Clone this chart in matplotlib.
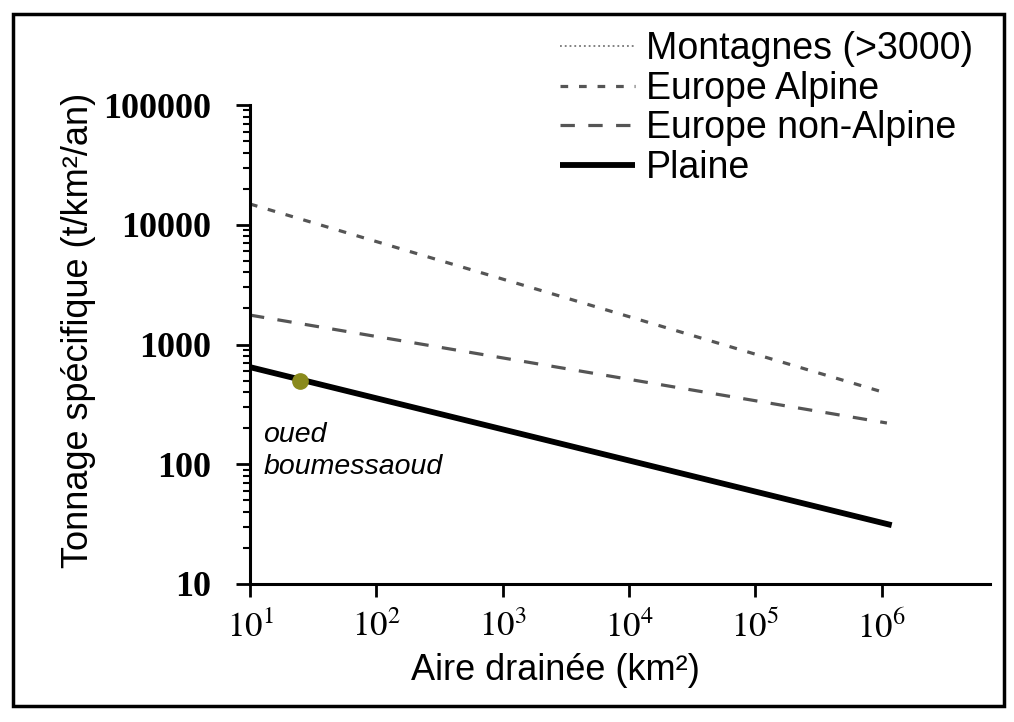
import matplotlib
matplotlib.use("Agg")
import matplotlib.pyplot as plt
from matplotlib.patches import Rectangle
from matplotlib.ticker import FixedLocator, FixedFormatter, LogLocator, NullFormatter, NullLocator

plt.rcParams['font.family'] = ['Liberation Sans', 'DejaVu Sans']
plt.rcParams['mathtext.fontset'] = 'stix'

# values
aire_alpine = [10, 1.15e6]
tonnage_alpine = [14900, 386]
aire_non_alpine = [10, 1.1e6]
tonnage_non_alpine = [1760, 221]
aire_plaine = [10, 1.2e6]
tonnage_plaine = [647, 31]
aire_oued = [25]
tonnage_oued = [496]

x_ticks = [1e1, 1e2, 1e3, 1e4, 1e5, 1e6]
x_labels = ['$10^{1}$', '$10^{2}$', '$10^{3}$', '$10^{4}$', '$10^{5}$', '$10^{6}$']
y_ticks = [10, 100, 1000, 10000, 100000]
y_labels = ['10', '100', '1000', '10000', '100000']

fig = plt.figure(figsize=(10.14, 7.22), dpi=100)
ax = fig.add_axes([250 / 1014, 1 - 584 / 722, (990 - 250) / 1014, (584 - 105) / 722])

ax.plot([], [], linestyle=':', color='#777777', lw=1.3, label='Montagnes (>3000)')
ax.plot(aire_alpine, tonnage_alpine, color='#555555', lw=2.3, dashes=(2.4, 3.4), label='Europe Alpine')
ax.plot(aire_non_alpine, tonnage_non_alpine, color='#555555', lw=2.3, dashes=(4.5, 4.2), label='Europe non-Alpine')
ax.plot(aire_plaine, tonnage_plaine, color='black', lw=4.2, solid_capstyle='butt', label='Plaine')
ax.plot(aire_oued, tonnage_oued, 'o', color='#8a8a1c', markersize=11, zorder=5)
ax.text(12.8, 225, 'oued\nboumessaoud', fontsize=20.5, style='italic', va='top', ha='left', linespacing=1.3)

ax.set_xscale('log')
ax.set_yscale('log')
ax.set_xlim(10, 7.2e6)
ax.set_ylim(10, 1e5)

ax.xaxis.set_major_locator(FixedLocator(x_ticks))
ax.xaxis.set_major_formatter(FixedFormatter(x_labels))
ax.xaxis.set_minor_locator(NullLocator())
ax.yaxis.set_major_locator(FixedLocator(y_ticks))
ax.yaxis.set_major_formatter(FixedFormatter(y_labels))
ax.yaxis.set_minor_locator(LogLocator(base=10, subs=range(2, 10)))
ax.yaxis.set_minor_formatter(NullFormatter())

ax.tick_params(axis='x', which='major', direction='out', length=9, width=2, pad=10, labelsize=25)
ax.tick_params(axis='y', which='major', direction='out', length=10, width=2, pad=18)
ax.tick_params(axis='y', which='minor', direction='out', length=5, width=1.5)
for lab in ax.get_yticklabels():
    lab.set_fontfamily('Liberation Serif')
    lab.set_fontweight('bold')
    lab.set_fontsize(26)

ax.spines['top'].set_visible(False)
ax.spines['right'].set_visible(False)
ax.spines['left'].set_linewidth(2.2)
ax.spines['bottom'].set_linewidth(2.2)

ax.set_xlabel('Aire drainée (km²)', fontsize=26)
ax.xaxis.set_label_coords((555 - 250) / 740, -0.145)
ax.set_ylabel('Tonnage spécifique (t/km²/an)', fontsize=26)
ax.yaxis.set_label_coords(-0.208, 0.53)

ax.legend(loc='upper left', bbox_to_anchor=(560 / 1014, 1 - 31 / 722), bbox_transform=fig.transFigure,
          frameon=False, fontsize=27, handlelength=2.0, handletextpad=0.3, labelspacing=0.1,
          borderpad=0, borderaxespad=0)

fig.patches.append(Rectangle((13 / 1014, 1 - 706 / 722), (1004 - 13) / 1014, (706 - 14) / 722,
                             transform=fig.transFigure, fill=False, lw=2.5, edgecolor='black'))

fig.savefig('out.png', dpi=100)
